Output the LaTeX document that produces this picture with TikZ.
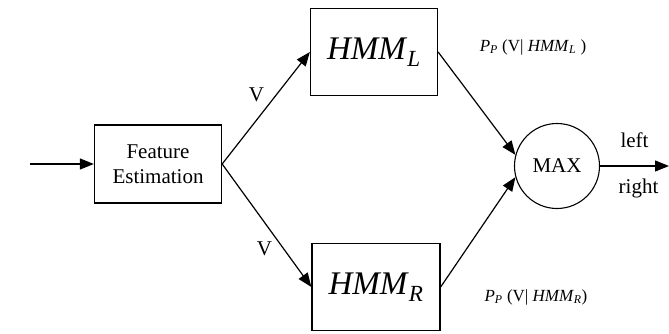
\documentclass[tikz,border=0pt]{standalone}
\usepackage{fontspec}
\setmainfont{Liberation Serif}
\usepackage{tikz}
\usetikzlibrary{arrows.meta}

\newcommand{\hmmsub}[1]{\textit{HMM}\textsubscript{\textit{#1}}}

\begin{document}
\begin{tikzpicture}[x=1pt,y=-1pt,line width=1.2pt,-{Triangle[length=14pt,width=11pt]}]
			\tikzstyle{block}=[draw,rectangle,line width=1.3pt,inner sep=0pt]
			\tikzstyle{txt}=[font=\fontsize{21}{25}\selectfont]
			\tikzstyle{big}=[font=\fontsize{33}{35}\selectfont]
			\tikzstyle{prob}=[font=\fontsize{17}{19}\selectfont]
			\useasboundingbox (0,0) rectangle (669,334);
			\coordinate (in) at (30,164);
			\node[block,txt,minimum width=127pt,minimum height=78pt,align=center] (feat) at (158,164) {Feature\\Estimation};
			\node[block,big,minimum width=127pt,minimum height=87pt] (hmmL) at (374,52) {\hmmsub{L}};
			\node[block,big,minimum width=128pt,minimum height=87pt] (hmmR) at (376,287) {\hmmsub{R}};
			\node[draw,circle,line width=1.1pt,minimum size=85pt,inner sep=0pt,txt] (max) at (557,166) {MAX};
			\coordinate (out) at (669,166);
			\draw (in) -- (feat);
			\draw (feat.east) -- node[auto,txt,pos=0.52,inner sep=3pt]{V} (hmmL.west);
			\draw (feat.east) -- node[auto,swap,txt,pos=0.6,inner sep=3pt]{V} (hmmR.west);
			\draw (hmmL.east) -- (max.165);
			\draw (hmmR.east) -- (max.195);
			\draw (max) -- node[above=14pt,txt]{left} node[below=9pt,txt,xshift=4pt]{right} (out);
			\node[prob] (pL) at (533,47) {\textit{P}\textsubscript{\textit{P}} (V| \hmmsub{L} )};
			\node[prob] (pR) at (536,297) {\textit{P}\textsubscript{\textit{P}} (V| \hmmsub{R})};
			\end{tikzpicture}
\end{document}
